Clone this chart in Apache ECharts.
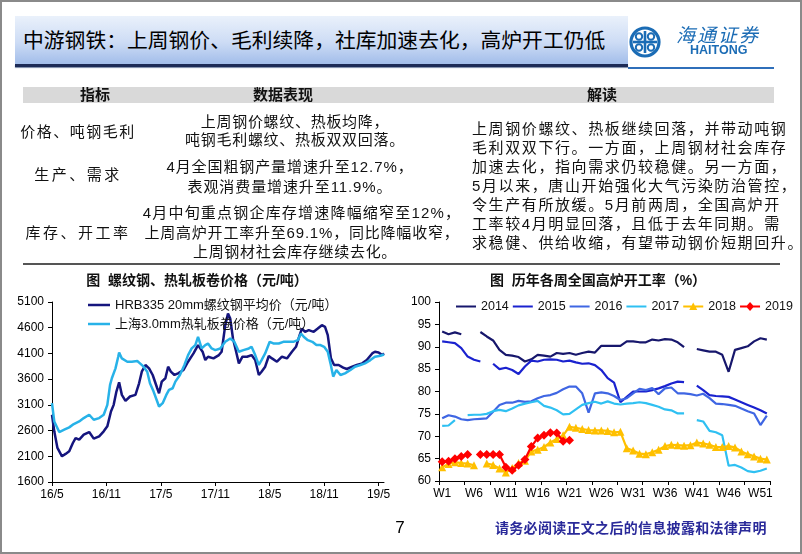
<!DOCTYPE html>
<html><head><meta charset="utf-8">
<script src="https://cdn.jsdelivr.net/npm/echarts@6/dist/echarts.min.js"></script>
<style>
html,body{margin:0;padding:0;background:#fff;}
body{width:802px;height:554px;overflow:hidden;position:relative;font-family:"Liberation Sans","Noto Sans CJK SC",sans-serif;color:#111;}
#frame{position:absolute;left:0;top:0;width:798px;height:550px;border:2px solid #8a8a8a;}
.t{position:absolute;white-space:nowrap;}
.c{text-align:center;}
#titlebar{position:absolute;left:15px;top:16px;width:613px;height:48px;background:linear-gradient(180deg,#eaf1fb 0%,#cddcf5 55%,#a2bdea 100%);}
#titleline{position:absolute;left:15px;top:64px;width:613px;height:3px;background:#1c2b57;box-shadow:0 1px 1px #7a8aa8;}
#logoline{position:absolute;left:628px;top:67px;width:146px;height:2px;background:#2f6fba;}
#c{position:absolute;left:0;top:0;width:802px;height:554px;}
</style></head>
<body>
<div id="frame"></div>
<div id="c"></div>
<div id="titlebar"></div>
<div id="titleline"></div>
<div id="logoline"></div>
<div class="t" style="left:23px;top:28px;font-size:20.8px;line-height:26px;color:#000;">中游钢铁：上周钢价、毛利续降，社库加速去化，高炉开工仍低</div>
<svg style="position:absolute;left:628px;top:25px" width="36" height="34" viewBox="0 0 36 34">
  <circle cx="17" cy="17" r="14" fill="none" stroke="#1b6cb5" stroke-width="3.2"/>
  <path d="M5 17 H29" stroke="#1b6cb5" stroke-width="2.6" fill="none"/>
  <path d="M17 6 V28" stroke="#1b6cb5" stroke-width="2.6" fill="none"/>
  <circle cx="11" cy="11.5" r="3.2" fill="none" stroke="#1b6cb5" stroke-width="2"/>
  <circle cx="23" cy="11.5" r="3.2" fill="none" stroke="#1b6cb5" stroke-width="2"/>
  <circle cx="11" cy="22.5" r="3.2" fill="none" stroke="#1b6cb5" stroke-width="2"/>
  <circle cx="23" cy="22.5" r="3.2" fill="none" stroke="#1b6cb5" stroke-width="2"/>
</svg>
<div class="t" style="left:676px;top:24px;font-size:19px;line-height:24px;color:#1b6cb5;font-style:italic;letter-spacing:2px;">海通证券</div>
<div class="t" style="left:690px;top:43px;font-size:12.5px;line-height:14px;color:#1b6cb5;font-weight:bold;">HAITONG</div>

<!-- table -->
<div style="position:absolute;left:23px;top:87px;width:751px;height:16px;background:#d9d9d9;"></div>
<div class="t c" style="left:55px;width:80px;top:86px;font-size:15px;line-height:18px;font-weight:bold;">指标</div>
<div class="t c" style="left:223px;width:120px;top:86px;font-size:15px;line-height:18px;font-weight:bold;">数据表现</div>
<div class="t c" style="left:562px;width:80px;top:86px;font-size:15px;line-height:18px;font-weight:bold;">解读</div>

<div class="t c" style="left:8px;width:140px;top:122px;font-size:15px;line-height:20px;letter-spacing:1.5px;">价格、吨钢毛利</div>
<div class="t c" style="left:8px;width:140px;top:165px;font-size:15px;line-height:20px;letter-spacing:2.5px;">生产、需求</div>
<div class="t c" style="left:8px;width:140px;top:223px;font-size:15px;line-height:20px;letter-spacing:2.5px;">库存、开工率</div>

<div class="t c" style="left:140px;width:310px;top:112px;font-size:15px;line-height:20px;letter-spacing:0.7px;">上周钢价螺纹、热板均降，</div>
<div class="t c" style="left:140px;width:310px;top:130px;font-size:15px;line-height:20px;letter-spacing:0.7px;">吨钢毛利螺纹、热板双双回落。</div>
<div class="t c" style="left:135px;width:310px;top:157px;font-size:15px;line-height:20px;letter-spacing:0.9px;">4月全国粗钢产量增速升至12.7%，</div>
<div class="t c" style="left:135px;width:310px;top:177px;font-size:15px;line-height:20px;letter-spacing:0.9px;">表观消费量增速升至11.9%。</div>
<div class="t c" style="left:140px;width:324px;top:203px;font-size:15px;line-height:20px;letter-spacing:1.2px;">4月中旬重点钢企库存增速降幅缩窄至12%，</div>
<div class="t c" style="left:140px;width:324px;top:223px;font-size:15px;line-height:20px;letter-spacing:0.8px;">上周高炉开工率升至69.1%，同比降幅收窄，</div>
<div class="t c" style="left:140px;width:310px;top:242px;font-size:15px;line-height:20px;letter-spacing:0.7px;">上周钢材社会库存继续去化。</div>

<div class="t" style="left:472px;top:119px;font-size:15px;line-height:20px;letter-spacing:1.6px;">上周钢价螺纹、热板继续回落，并带动吨钢</div>
<div class="t" style="left:472px;top:138px;font-size:15px;line-height:20px;letter-spacing:1.6px;">毛利双双下行。一方面，上周钢材社会库存</div>
<div class="t" style="left:472px;top:157px;font-size:15px;line-height:20px;letter-spacing:1.6px;">加速去化，指向需求仍较稳健。另一方面，</div>
<div class="t" style="left:472px;top:176px;font-size:15px;line-height:20px;letter-spacing:1.6px;">5月以来，唐山开始强化大气污染防治管控，</div>
<div class="t" style="left:472px;top:195px;font-size:15px;line-height:20px;letter-spacing:1.6px;">令生产有所放缓。5月前两周，全国高炉开</div>
<div class="t" style="left:472px;top:214px;font-size:15px;line-height:20px;letter-spacing:1.6px;">工率较4月明显回落，且低于去年同期。需</div>
<div class="t" style="left:472px;top:233px;font-size:15px;line-height:20px;letter-spacing:1.6px;">求稳健、供给收缩，有望带动钢价短期回升。</div>
<div style="position:absolute;left:23px;top:263px;width:757px;height:2px;background:#555;"></div>

<!-- chart titles -->
<div class="t c" style="left:67px;width:260px;top:271px;font-size:14px;line-height:18px;font-weight:bold;">图&nbsp;&nbsp;螺纹钢、热轧板卷价格（元/吨）</div>
<div class="t c" style="left:468px;width:260px;top:271px;font-size:14px;line-height:18px;font-weight:bold;">图&nbsp;&nbsp;历年各周全国高炉开工率（%）</div>

<!-- footer -->
<div class="t c" style="left:385px;width:30px;top:518px;font-size:17px;line-height:20px;color:#000;">7</div>
<div class="t" style="left:495px;top:518px;font-size:14px;line-height:20px;color:#2a2a9a;font-weight:bold;letter-spacing:0.3px;">请务必阅读正文之后的信息披露和法律声明</div>

<script>
// ---------- left chart data: months since 2016-05 ----------
const priceTickLabels = ['16/5','16/11','17/5','17/11','18/5','18/11','19/5'];
const hrbName = 'HRB335 20mm螺纹钢平均价（元/吨）';
const hotName = '上海3.0mm热轧板卷价格（元/吨）';
const hrbMonths = [0,0.25,0.6,1.1,1.5,1.9,2.3,2.6,3.0,3.5,4.1,4.6,5.2,5.7,6.1,6.5,6.8,7.1,7.4,7.7,8.1,8.6,9.2,9.6,9.9,10.3,10.7,11.1,11.6,11.8,12.1,12.5,12.8,13.1,13.5,13.9,14.5,15.0,15.6,16.1,16.6,16.9,17.2,17.8,
  18.0,18.4,18.7,19.1,19.4,19.65,19.95,20.3,20.6,21.0,21.5,22.0,22.4,22.8,23.1,23.5,23.9,24.25,24.8,25.35,25.9,26.45,26.9,27.3,27.55,27.9,28.3,28.85,29.3,29.75,30.1,30.4,30.75,31.1,31.6,32.1,32.5,33.1,33.6,34.2,34.7,35.3,35.6,36.0,36.4,36.6];
const hrbValues = [2907,2585,2262,2100,2146,2197,2358,2455,2423,2520,2572,2443,2488,2585,2682,2970,3100,3358,3540,3294,3178,3262,3294,3520,3745,3875,3810,3681,3423,3326,3552,3617,3842,3745,3681,3713,3778,3939,4100,4262,4133,3971,4036,4003,
  4003,4068,4133,4649,4874,4778,4390,4133,3907,4036,4036,4068,3971,3681,3745,3842,4050,4003,3939,4036,4003,4133,4229,4455,4584,4520,4552,4520,4584,4649,4616,4455,4003,3875,3875,3823,3797,3842,3875,3907,3971,4100,4133,4120,4068,4100];
const hotMonths = [0,0.25,0.8,1.35,1.9,2.4,3.0,3.5,4.1,4.6,5.2,5.7,6.1,6.4,6.6,7.0,7.3,7.4,7.7,8.3,8.8,9.4,9.7,10.1,10.5,10.8,11.2,11.6,11.8,12.2,12.6,12.9,13.3,13.6,14.1,14.6,15.0,15.4,15.8,16.1,16.5,16.9,17.2,17.6,
  18.0,18.55,19.1,19.65,20.1,20.6,21.1,21.7,22.0,22.4,22.8,23.1,23.5,24.0,24.4,25.0,25.5,26.1,26.6,27.1,27.45,27.75,28.2,28.7,29.15,29.6,30.0,30.4,30.7,31.0,31.35,31.8,32.3,32.9,33.4,34.0,34.5,35.1,35.6,36.2,36.6];
const hotValues = [3133,2778,2572,2617,2662,2726,2778,2843,2907,2810,2843,2907,3100,3488,3617,3810,4036,4120,4003,3939,3939,3952,3907,3842,3745,3520,3358,3165,3068,3133,3294,3391,3423,3552,3681,3875,4068,4197,4262,4423,4197,4262,4294,4197,
  4165,4197,4326,4390,4326,4133,4165,4197,4229,4068,3875,3971,4100,4326,4294,4294,4326,4326,4326,4358,4487,4423,4358,4326,4262,4262,4229,4133,3907,3649,3778,3681,3713,3778,3842,3875,3907,3971,4036,4055,4080];

// ---------- right chart data: weekly blast furnace utilisation (%) ----------
const weeks = ['W1','W2','W3','W4','W5','W6','W7','W8','W9','W10','W11','W12','W13','W14','W15','W16','W17','W18','W19','W20','W21','W22','W23','W24','W25','W26','W27','W28','W29','W30','W31','W32','W33','W34','W35','W36','W37','W38','W39','W40','W41','W42','W43','W44','W45','W46','W47','W48','W49','W50','W51','W52'];
const yearNames = ['2014','2015','2016','2017','2018','2019'];
const y2014 = [93.4,92.8,93.2,92.8,null,null,93.3,92.3,91.4,89.3,88.2,88.0,87.7,86.7,87.2,88.2,88.0,87.8,88.6,88.4,88.6,88.2,88.6,88.9,88.7,90.2,90.2,90.2,90.2,91.2,91.2,91.0,91.0,91.6,91.4,91.7,91.6,91.0,89.9,null,89.5,89.2,88.9,88.9,88.2,84.4,89.3,89.7,90.1,91.2,91.9,91.6];
const y2015 = [91.2,91.0,90.8,89.7,87.8,87.1,86.7,null,86.2,85.0,85.3,84.8,83.9,85.6,86.9,86.7,87.1,87.2,87.1,86.7,86.9,86.5,86.2,86.3,85.9,84.8,83.0,82.0,77.6,78.8,80.0,80.0,80.0,80.3,80.7,81.2,81.8,82.2,82.1,null,81.3,80.3,79.2,79.0,78.9,78.8,78.2,77.6,77.0,76.4,75.8,75.1];
const y2016 = [74.0,74.7,74.4,73.8,73.6,73.8,73.9,74.0,75.5,77.0,77.5,77.5,77.9,77.7,77.8,78.5,79.0,79.2,79.7,80.5,81.1,81.1,79.6,75.3,79.6,79.8,79.6,79.0,78.1,78.5,79.6,80.6,80.3,80.8,79.4,80.7,80.9,79.6,79.6,79.4,79.1,79.5,78.5,77.3,77.2,77.0,76.8,76.2,75.6,75.1,72.5,74.6];
const y2017 = [72.3,72.4,73.6,null,74.7,74.8,74.8,75.0,75.6,75.9,75.6,76.2,76.9,77.3,77.6,77.9,76.8,76.4,75.8,74.9,75.0,76.0,77.0,77.4,77.7,77.3,77.8,77.3,77.1,77.3,77.4,77.6,77.4,77.0,76.6,76.0,75.8,75.1,75.1,null,73.6,73.3,71.2,70.9,70.2,63.4,63.6,63.0,62.2,62.0,62.3,62.8];
const y2018 = [63.1,63.8,64.2,64.0,63.9,63.5,null,63.9,63.6,62.8,61.9,62.9,64.0,64.5,66.6,67.0,67.6,68.6,69.4,70.2,72.1,71.9,71.6,71.4,71.3,71.3,71.2,70.9,71.0,67.3,66.8,66.1,66.0,66.4,67.0,67.8,68.1,68.0,67.9,68.0,68.6,68.4,68.1,67.6,67.6,67.8,67.5,66.6,66.0,65.5,65.0,64.8];
const y2019 = [64.3,64.4,65.0,65.5,65.9,null,65.9,65.9,65.9,65.9,63.1,62.4,63.5,64.8,67.7,69.6,70.2,70.8,70.7,68.9,69.1];
const yearColors = ['#17176c','#1a22cf','#3f66e3','#2fc0f2','#ffc000','#ff0000'];

const zip = (xs, ys) => xs.map((x, i) => [x, ys[i]]);
const axisCommon = {
  axisLine:{show:true,lineStyle:{color:'#000',width:1}},
  axisTick:{show:true,length:4,lineStyle:{color:'#000'}},
  splitLine:{show:false},
  axisLabel:{color:'#000',fontSize:12,fontFamily:'Liberation Sans'}
};
// legend icons: thin line (with marker for 2018 / 2019)
const lineIconL = 'path://M0,0M22,14M0,5.75H22V8.25H0Z';
const lineIconR = 'path://M0,0M20,12M0,5H20V7H0Z';
const triIconR = 'path://M0,0M20,12M0,5H20V7H0ZM10,2L14,9.5H6Z';
const diaIconR = 'path://M0,0M20,12M0,5H20V7H0ZM10,1.5L14,6L10,10.5L6,6Z';
const yearIcons = [lineIconR,lineIconR,lineIconR,lineIconR,triIconR,diaIconR];

const chart = echarts.init(document.getElementById('c'), null, {renderer:'canvas', width:802, height:554});
const yearData = [y2014,y2015,y2016,y2017,y2018,y2019];
const yearSeries = yearNames.map((n, i) => ({
  name:n, type:'line', xAxisIndex:1, yAxisIndex:1, data:yearData[i],
  connectNulls:false,
  symbol: i===4 ? 'triangle' : (i===5 ? 'diamond' : 'none'),
  symbolSize: i===4 ? 8 : (i===5 ? 9 : 0),
  showSymbol: i>=4,
  showAllSymbol: true,
  lineStyle:{width:2.2,color:yearColors[i]},
  itemStyle:{color:yearColors[i]},
  z: 2 + i
}));
chart.setOption({
  animation:false,
  backgroundColor:'transparent',
  textStyle:{fontFamily:'Liberation Sans, Noto Sans CJK SC'},
  grid:[{left:52,top:302,width:332,height:180},{left:439,top:302,width:331,height:179}],
  xAxis:[
    Object.assign({}, axisCommon, {gridIndex:0,type:'value',min:0,max:36.6,interval:6,
      axisLabel:Object.assign({}, axisCommon.axisLabel, {margin:7, showMaxLabel:false,
        formatter:v => { const i = Math.round(v/6); return (Math.abs(v - 6*i) < 1e-6 && priceTickLabels[i] !== undefined) ? priceTickLabels[i] : ''; }})}),
    Object.assign({}, axisCommon, {gridIndex:1,type:'category',data:weeks,boundaryGap:true,
      axisTick:{show:true,length:4,interval:3,lineStyle:{color:'#000'}},
      axisLabel:Object.assign({}, axisCommon.axisLabel, {interval:4,margin:7})})
  ],
  yAxis:[
    Object.assign({}, axisCommon, {gridIndex:0,type:'value',min:1600,max:5100,interval:500,
      axisLabel:Object.assign({}, axisCommon.axisLabel, {margin:8, formatter:v => String(v)})}),
    Object.assign({}, axisCommon, {gridIndex:1,type:'value',min:60,max:100,interval:5,
      axisLabel:Object.assign({}, axisCommon.axisLabel, {margin:8, formatter:v => String(v)})})
  ],
  legend:[
    {data:[{name:hrbName,icon:lineIconL},{name:hotName,icon:lineIconL}], orient:'vertical', left:88, top:298,
     itemWidth:22, itemHeight:14, itemGap:5, padding:0,
     textStyle:{fontSize:13,color:'#111',fontFamily:'Liberation Sans, Noto Sans CJK SC'}},
    {data:yearNames.map((n,i)=>({name:n,icon:yearIcons[i]})), orient:'horizontal', left:456, top:300, width:346,
     itemWidth:20, itemHeight:12, itemGap:4, padding:0,
     textStyle:{fontSize:12.5,color:'#111',fontFamily:'Liberation Sans'}}
  ],
  series:[
    {name:hrbName,type:'line',xAxisIndex:0,yAxisIndex:0,symbol:'none',data:zip(hrbMonths,hrbValues),
     lineStyle:{width:2.5,color:'#15157e'},itemStyle:{color:'#15157e'}},
    {name:hotName,type:'line',xAxisIndex:0,yAxisIndex:0,symbol:'none',data:zip(hotMonths,hotValues),
     lineStyle:{width:2.5,color:'#27b2e8'},itemStyle:{color:'#27b2e8'}}
  ].concat(yearSeries)
});
</script>
</body></html>
